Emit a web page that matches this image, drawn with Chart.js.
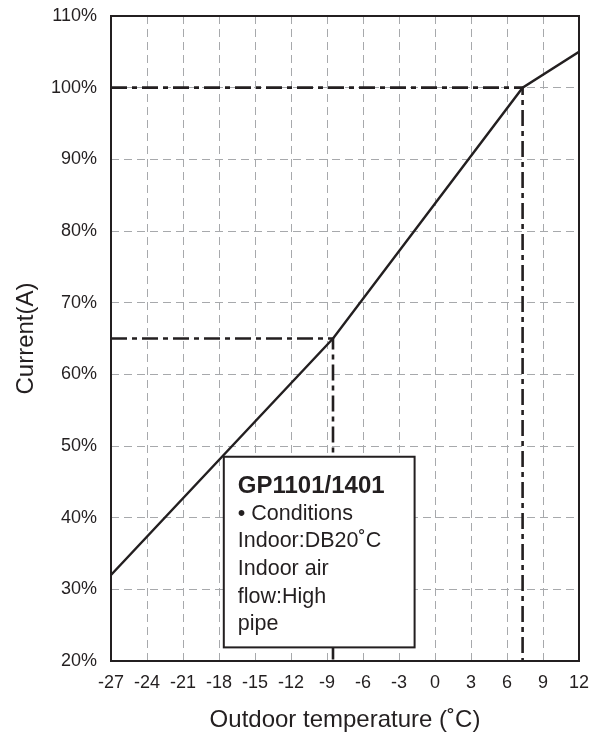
<!DOCTYPE html>
<html lang="en">
<head>
    <meta charset="UTF-8">
    <title>Current vs outdoor temperature</title>
    <style>
        html, body { margin: 0; padding: 0; background: #fff; }
        /* chart fills the whole window */
        #wrap { width: 602px; height: 736px; position: relative; }
    </style>
</head>
<body>
    <div id="wrap"><canvas id="chart"></canvas></div>
    <script src="https://cdn.jsdelivr.net/npm/chart.js"></script>
    <script>
        // curve: outdoor temperature (°C) -> current (%)
        const temps = [-27, -8.5, 7.3, 12];
        const currents = [32, 65, 100, 105];

        // dash-dot guide lines
        const guideHighX = [-27, 7.3, 7.3];
        const guideHighY = [100, 100, 20];
        const guideLowX = [-27, -8.5, -8.5];
        const guideLowY = [65, 65, 20];

        // tick labels
        const xTicks = [-27, -24, -21, -18, -15, -12, -9, -6, -3, 0, 3, 6, 9, 12];
        const yTicks = [20, 30, 40, 50, 60, 70, 80, 90, 100, 110];

        // text of the note box
        const noteTitle = 'GP1101/1401';
        const noteLines = ['• Conditions', 'Indoor:DB20˚C', 'Indoor air', 'flow:High', 'pipe'];

        const ink = '#231f20';
        const gridGray = '#a7a9ac';
        const fontFamily = '"Liberation Sans", Arial, Helvetica, sans-serif';

        function toPoints(xs, ys) {
            return xs.map((x, i) => ({ x: x, y: ys[i] }));
        }

        // frame around plot area + note box
        const framePlugin = {
            id: 'frameAndNote',
            afterDatasetsDraw(chart) {
                const ctx = chart.ctx;
                const a = chart.chartArea;
                const xs = chart.scales.x;
                const ys = chart.scales.y;
                ctx.save();
                ctx.setLineDash([]);
                ctx.strokeStyle = ink;
                ctx.lineWidth = 2;
                ctx.strokeRect(a.left, a.top, a.right - a.left, a.bottom - a.top);

                // note box (placed in data units)
                const left = xs.getPixelForValue(-17.6);
                const right = xs.getPixelForValue(-1.7);
                const top = ys.getPixelForValue(48.5);
                const bottom = ys.getPixelForValue(21.9);
                ctx.fillStyle = '#fff';
                ctx.fillRect(left, top, right - left, bottom - top);
                ctx.strokeRect(left, top, right - left, bottom - top);

                ctx.fillStyle = ink;
                ctx.textAlign = 'left';
                ctx.textBaseline = 'alphabetic';
                ctx.font = 'bold 24px ' + fontFamily;
                ctx.fillText(noteTitle, left + 14, top + 36);
                ctx.font = '21.5px ' + fontFamily;
                noteLines.forEach((t, i) => {
                    ctx.fillText(t, left + 14, top + 63 + i * 27.6);
                });
                ctx.restore();
            }
        };

        const gridColor = ctx => {
            const v = ctx.tick ? ctx.tick.value : null;
            if (v === -27 || v === 12 || v === 20 || v === 110) return 'rgba(0,0,0,0)';
            return gridGray;
        };

        new Chart(document.getElementById('chart'), {
            type: 'scatter',
            data: {
                datasets: [
                    {
                        data: toPoints(temps, currents),
                        showLine: true,
                        borderColor: ink,
                        borderWidth: 2.4,
                        pointRadius: 0,
                        tension: 0,
                        order: 1
                    },
                    {
                        data: toPoints(guideHighX, guideHighY),
                        showLine: true,
                        borderColor: ink,
                        borderWidth: 2.6,
                        borderDash: [16, 5, 5, 5],
                        pointRadius: 0,
                        order: 2
                    },
                    {
                        data: toPoints(guideLowX, guideLowY),
                        showLine: true,
                        borderColor: ink,
                        borderWidth: 2.6,
                        borderDash: [16, 5, 5, 5],
                        pointRadius: 0,
                        order: 2
                    }
                ]
            },
            options: {
                responsive: true,
                maintainAspectRatio: false,
                animation: false,
                layout: { padding: { top: 16, right: 23, left: 0, bottom: 0 } },
                plugins: {
                    legend: { display: false },
                    tooltip: { enabled: false }
                },
                scales: {
                    x: {
                        type: 'linear',
                        min: -27,
                        max: 12,
                        afterBuildTicks: s => { s.ticks = xTicks.map(v => ({ value: v })); },
                        afterFit: s => { s.height = 75; s.paddingLeft = 0; s.paddingRight = 0; },
                        grid: { color: gridColor, lineWidth: 1, drawTicks: false },
                        border: { display: false, dash: [8, 5] },
                        ticks: {
                            color: ink,
                            padding: 11,
                            maxRotation: 0,
                            autoSkip: false,
                            font: { family: fontFamily, size: 18 }
                        },
                        title: {
                            display: true,
                            text: 'Outdoor temperature (˚C)',
                            color: ink,
                            padding: { top: 0, bottom: 1.5 },
                            font: { family: fontFamily, size: 24 }
                        }
                    },
                    y: {
                        min: 20,
                        max: 110,
                        afterBuildTicks: s => { s.ticks = yTicks.map(v => ({ value: v })); },
                        afterFit: s => { s.width = 111; s.paddingTop = 0; s.paddingBottom = 0; },
                        grid: { color: gridColor, lineWidth: 1, drawTicks: false },
                        border: { display: false, dash: [8, 5] },
                        ticks: {
                            color: ink,
                            padding: 14,
                            autoSkip: false,
                            callback: v => v + '%',
                            font: { family: fontFamily, size: 18 }
                        },
                        title: {
                            display: true,
                            text: 'Current(A)',
                            color: ink,
                            padding: { top: 12, bottom: 0 },
                            font: { family: fontFamily, size: 24 }
                        }
                    }
                }
            },
            plugins: [framePlugin]
        });
    </script>
</body>
</html>
